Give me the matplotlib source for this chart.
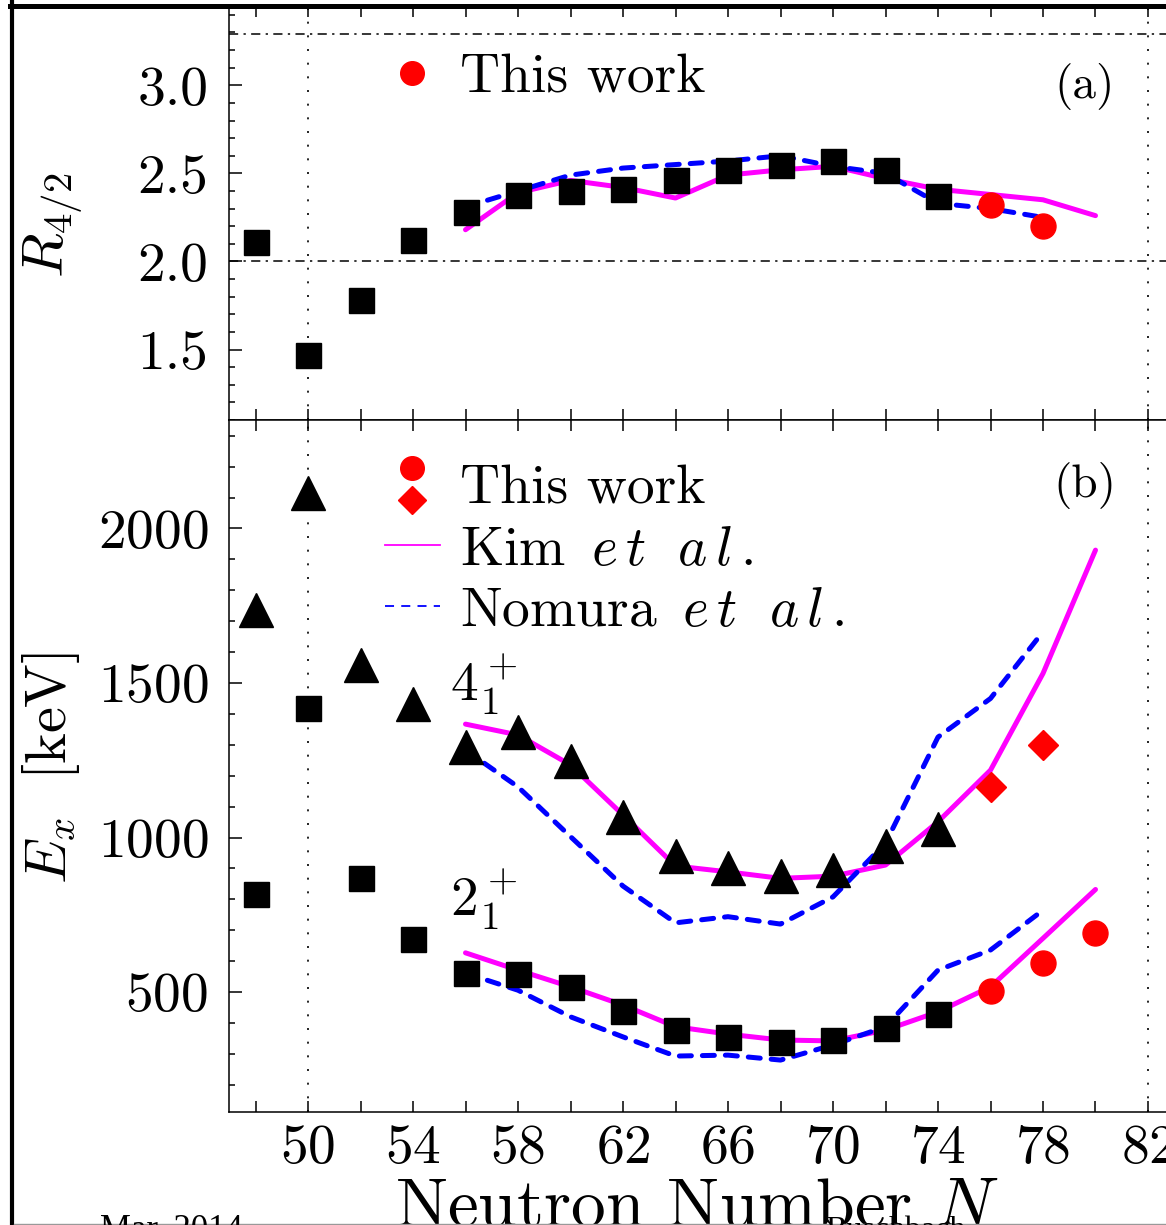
import numpy as np
import matplotlib
matplotlib.use('Agg')
import matplotlib.pyplot as plt
from matplotlib.lines import Line2D
from matplotlib.legend_handler import HandlerBase
from matplotlib.ticker import FixedLocator, MultipleLocator, FormatStrFormatter

plt.rcParams['font.family'] = 'cmr10'
plt.rcParams['mathtext.fontset'] = 'cm'
plt.rcParams['axes.formatter.use_mathtext'] = True
plt.rcParams['axes.unicode_minus'] = False

# ---- data ----
N_exp = [48, 50, 52, 54, 56, 58, 60, 62, 64, 66, 68, 70, 72, 74]
R42_exp = [2.11, 1.47, 1.78, 2.12, 2.28, 2.38, 2.40, 2.41, 2.46, 2.52, 2.55, 2.57, 2.52, 2.37]
E2_exp = [817, 1418, 868, 672, 562, 560, 516, 438, 377, 355, 337, 344, 383, 430]
E4_exp = [1735, 2114, 1558, 1433, 1294, 1342, 1248, 1066, 941, 903, 874, 895, 973, 1027]

N_this_R = [76, 78]
R42_this = [2.32, 2.20]
N_this_2 = [76, 78, 80]
E2_this = [502, 594, 690]
N_this_4 = [76, 78]
E4_this = [1164, 1301]

N_kim = [56, 58, 60, 62, 64, 66, 68, 70, 72, 74, 76, 78, 80]
R42_kim = [2.18, 2.39, 2.46, 2.42, 2.36, 2.49, 2.52, 2.54, 2.47, 2.41, 2.38, 2.35, 2.26]
E2_kim = [627, 571, 517, 458, 388, 364, 345, 342, 377, 436, 517, 674, 832]
E4_kim = [1367, 1332, 1235, 1073, 908, 889, 868, 875, 911, 1051, 1218, 1531, 1930]

N_nom = [56, 58, 60, 62, 64, 66, 68, 70, 72, 74, 76, 78]
R42_nom = [2.31, 2.40, 2.49, 2.53, 2.55, 2.57, 2.60, 2.54, 2.50, 2.33, 2.30, 2.25]
E2_nom = [561, 506, 420, 355, 293, 296, 280, 329, 388, 571, 636, 765]
E4_nom = [1283, 1164, 1003, 843, 724, 744, 720, 808, 982, 1325, 1450, 1666]

R42_limits = [2.0, 3.29]
N_magic = [50, 82]

W, H = 1166, 1225
fig = plt.figure(figsize=(W / 100, H / 100), dpi=100)

left = 229.25 / W
width = 971.25 / W
ax_a = fig.add_axes([left, 1 - 420 / H, width, 414 / H])
ax_b = fig.add_axes([left, 1 - 1112 / H, width, 692 / H])

magenta = '#ff00ff'
blue = '#0000ff'
red = '#ff0000'

kw_kim = dict(color=magenta, lw=3.6, solid_capstyle='round', zorder=3)
kw_nom = dict(color=blue, lw=3.6, ls=(0, (2.4, 2.2)), dash_capstyle='round', zorder=3)


class HandlerStack(HandlerBase):
    # two markers stacked vertically in one legend key
    def create_artists(self, legend, orig_handle, xdescent, ydescent,
                       width, height, fontsize, trans):
        x = 0.5 * width - xdescent
        y0 = 0.5 * height - ydescent
        arts = []
        for h, off in zip(orig_handle, [0.42, -0.4]):
            ln = Line2D([x], [y0 + off * height], marker=h.get_marker(),
                        ms=h.get_markersize(), color=h.get_color(), ls='none',
                        transform=trans)
            arts.append(ln)
        return arts


for ax in (ax_a, ax_b):
    ax.set_xlim(47, 84)
    for n in N_magic:
        ax.axvline(n, color='black', lw=1.2, ls=(0, (1.2, 7)), zorder=1)
    ax.xaxis.set_major_locator(FixedLocator(range(50, 84, 4)))
    ax.xaxis.set_minor_locator(MultipleLocator(2))
    ax.tick_params(which='both', direction='in', top=True, right=True, width=1.1)
    ax.tick_params(axis='x', which='both', length=8)
    ax.tick_params(axis='y', which='major', length=9, labelsize=40, pad=15)
    ax.tick_params(axis='y', which='minor', length=4.5)
    for s in ax.spines.values():
        s.set_linewidth(1.1)

# ---- panel (a) ----
ax_a.set_ylim(1.1, 3.45)
for r in R42_limits:
    ax_a.axhline(r, color='black', lw=1.1, ls=(0, (6, 3.5, 1.5, 3.5)), zorder=1)
ax_a.plot(N_kim, R42_kim, **kw_kim)
ax_a.plot(N_nom, R42_nom, **kw_nom)
ax_a.plot(N_exp, R42_exp, 's', color='black', ms=18, zorder=4)
ax_a.plot(N_this_R, R42_this, 'o', color=red, ms=18, zorder=5)
ax_a.yaxis.set_major_locator(FixedLocator([1.5, 2.0, 2.5, 3.0]))
ax_a.yaxis.set_minor_locator(MultipleLocator(0.1))
ax_a.yaxis.set_major_formatter(FormatStrFormatter('%.1f'))
ax_a.tick_params(axis='x', labelbottom=False)
ax_a.set_ylabel(r'$R_{4/2}$', fontsize=42)
ax_a.yaxis.set_label_coords(-0.1485, 0.47)
ax_a.text(0.881, 0.806, '(a)', transform=ax_a.transAxes, fontsize=34,
          ha='center', va='center')
leg_h = Line2D([], [], marker='o', color=red, ms=17, ls='none')
ax_a.legend([leg_h], ['This work'], loc='upper left', bbox_to_anchor=(0.16, 0.885),
            frameon=False, fontsize=40, borderpad=0, borderaxespad=0,
            handlelength=1.0, handletextpad=0.36)

# ---- panel (b) ----
ax_b.set_ylim(112, 2351)
ax_b.plot(N_kim, E4_kim, **kw_kim)
ax_b.plot(N_kim, E2_kim, **kw_kim)
ax_b.plot(N_nom, E4_nom, **kw_nom)
ax_b.plot(N_nom, E2_nom, **kw_nom)
ax_b.plot(N_exp, E4_exp, '^', color='black', ms=25, zorder=4)
ax_b.plot(N_exp, E2_exp, 's', color='black', ms=18, zorder=4)
ax_b.plot(N_this_2, E2_this, 'o', color=red, ms=18, zorder=5)
ax_b.plot(N_this_4, E4_this, 'D', color=red, ms=15, zorder=5)
ax_b.yaxis.set_major_locator(FixedLocator([500, 1000, 1500, 2000]))
ax_b.yaxis.set_minor_locator(MultipleLocator(100))
ax_b.tick_params(axis='x', labelsize=40, pad=9)
ax_b.set_ylabel(r'$E_x\ \ [\mathrm{keV}]$', fontsize=42)
ax_b.yaxis.set_label_coords(-0.152, 0.497)
ax_b.set_xlabel(r'Neutron Number $N$', fontsize=50)
ax_b.xaxis.set_label_coords(0.4816, -0.095)
ax_b.text(0.881, 0.906, '(b)', transform=ax_b.transAxes, fontsize=34,
          ha='center', va='center')
ax_b.text(55.4, 1494, r'$4_1^+$', fontsize=40, ha='left', va='center')
ax_b.text(55.4, 798, r'$2_1^+$', fontsize=40, ha='left', va='center')

leg_c = Line2D([], [], marker='o', color=red, ms=17, ls='none')
leg_d = Line2D([], [], marker='D', color=red, ms=14, ls='none')
leg_k = Line2D([], [], color=magenta, lw=1.3)
leg_n = Line2D([], [], color=blue, lw=1.3, ls=(0, (5, 4)))
ax_b.legend([(leg_c, leg_d), leg_k, leg_n],
            ['This work', r'Kim $\,e\,t\ \ a\,l\,.$', r'Nomura $\,e\,t\ \ a\,l\,.$'],
            handler_map={tuple: HandlerStack()}, loc='upper left',
            bbox_to_anchor=(0.16, 0.935), frameon=False, fontsize=40,
            borderpad=0, borderaxespad=0, handlelength=1.0,
            handletextpad=0.36, labelspacing=0.2)

# ---- page frame and footer ----
fig.add_artist(Line2D([11.5 / W, 11.5 / W], [0, 1 - 2 / H], color='black', lw=3))
fig.add_artist(Line2D([10 / W, 1], [1 - 5.5 / H, 1 - 5.5 / H], color='black', lw=3.6))
fig.add_artist(Line2D([14 / W, 1], [1 - 1224 / H, 1 - 1224 / H], color='#999999', lw=1))
fig.text(100 / W, -0.0114, 'Mar. 2014', fontsize=25, family='Liberation Serif',
         va='baseline')
fig.text(825 / W, -0.0106, 'Buschbach', fontsize=23, family='Liberation Serif',
         va='baseline')

fig.savefig('out.png', dpi=100)
